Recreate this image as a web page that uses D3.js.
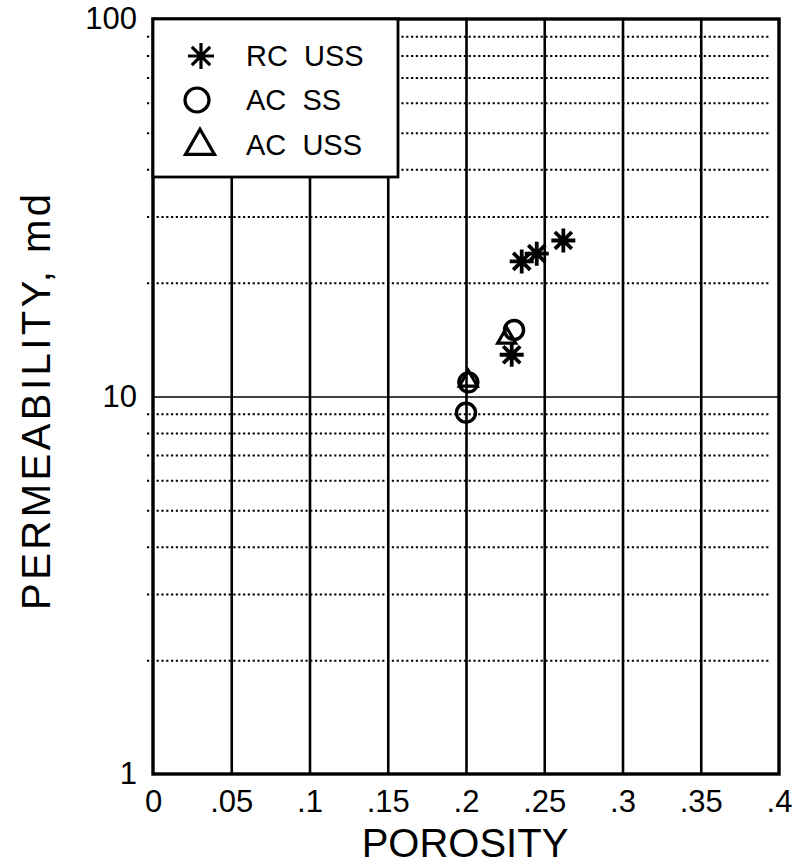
<!DOCTYPE html>
<html>
<head>
<meta charset="utf-8">
<script src="https://cdn.jsdelivr.net/npm/d3@7"></script>
<style>
  html, body { margin: 0; padding: 0; background: #fff; }
  svg { display: block; }
  text { font-family: "Liberation Sans", Arial, sans-serif; fill: #000; }
</style>
</head>
<body>
<svg id="chart" width="797" height="866"></svg>
<script>
// ---- data ----
const xTickValues = [0, 0.05, 0.1, 0.15, 0.2, 0.25, 0.3, 0.35, 0.4];
const xTickLabels = ["0", ".05", ".1", ".15", ".2", ".25", ".3", ".35", ".4"];
const yTickValues = [1, 10, 100];
const yTickLabels = ["1", "10", "100"];
const yMinorValues = [2, 3, 4, 5, 6, 7, 8, 9, 20, 30, 40, 50, 60, 70, 80, 90];

const rcUssPorosity = [0.2356, 0.2452, 0.2622, 0.2292];
const rcUssPerm     = [22.8, 23.9, 25.9, 12.9];

const acSsPorosity = [0.2307, 0.2015, 0.2000];
const acSsPerm     = [15.0, 10.9, 9.06];

const acUssPorosity = [0.2260, 0.2015];
const acUssPerm     = [14.3, 11.0];

const legendLabels = ["RC  USS", "AC  SS", "AC  USS"];
const legendSymbols = ["asterisk", "circle", "triangle"];

// ---- layout ----
const L = 153, R = 779, T = 19, B = 774;
const svg = d3.select("#chart");

const x = d3.scaleLinear().domain([0, 0.4]).range([L, R]);
const y = d3.scaleLog().domain([1, 100]).range([B, T]);

// minor dotted horizontal grid
svg.append("g")
  .attr("transform", `translate(${L},0)`)
  .call(d3.axisLeft(y).tickValues(yMinorValues).tickSize(-(R - L - 8)).tickFormat(""))
  .call(g => g.select(".domain").remove())
  .call(g => g.selectAll(".tick line")
      .attr("x1", -6)
      .attr("stroke", "#000")
      .attr("stroke-width", 2)
      .attr("stroke-dasharray", "2.2,2.6"));

// solid line at 10
svg.append("g")
  .attr("transform", `translate(${L},0)`)
  .call(d3.axisLeft(y).tickValues([10]).tickSize(-(R - L)).tickFormat(""))
  .call(g => g.select(".domain").remove())
  .call(g => g.selectAll(".tick line").attr("stroke", "#000").attr("stroke-width", 1.6));

// vertical solid grid
svg.append("g")
  .attr("transform", `translate(0,${B})`)
  .call(d3.axisBottom(x).tickValues(xTickValues.slice(1, -1)).tickSize(-(B - T)).tickFormat(""))
  .call(g => g.select(".domain").remove())
  .call(g => g.selectAll(".tick line").attr("stroke", "#000").attr("stroke-width", 2.6));

// x tick labels
svg.append("g")
  .attr("transform", `translate(0,${B})`)
  .call(d3.axisBottom(x).tickValues(xTickValues).tickSize(0).tickPadding(16)
        .tickFormat((d, i) => xTickLabels[i]))
  .call(g => g.select(".domain").remove())
  .call(g => g.selectAll("text").attr("font-size", 31).attr("fill", "#000")
        .style("font-family", '"Liberation Sans", Arial, sans-serif'));

// y tick labels
svg.append("g")
  .attr("transform", `translate(${L},0)`)
  .call(d3.axisLeft(y).tickValues(yTickValues).tickSize(0).tickPadding(16)
        .tickFormat((d, i) => yTickLabels[i]))
  .call(g => g.select(".domain").remove())
  .call(g => g.selectAll("text").attr("font-size", 31).attr("fill", "#000")
        .style("font-family", '"Liberation Sans", Arial, sans-serif'));

// frame
svg.append("rect")
  .attr("x", L).attr("y", T).attr("width", R - L).attr("height", B - T)
  .attr("fill", "none").attr("stroke", "#000").attr("stroke-width", 3.4);

// axis titles
svg.append("text")
  .attr("x", (L + R) / 2 - 1).attr("y", 857)
  .attr("text-anchor", "middle").attr("font-size", 40)
  .text("POROSITY");

svg.append("text")
  .attr("transform", "translate(50,402) rotate(-90)")
  .attr("text-anchor", "middle").attr("font-size", 40)
  .attr("textLength", 416).attr("lengthAdjust", "spacing")
  .text("PERMEABILITY, md");

// ---- markers ----
function asterisk(g, cx, cy, r, sw) {
  const p = d3.path();
  for (let k = 0; k < 4; k++) {
    const a = k * Math.PI / 4;
    p.moveTo(cx - r * Math.cos(a), cy - r * Math.sin(a));
    p.lineTo(cx + r * Math.cos(a), cy + r * Math.sin(a));
  }
  g.append("path").attr("d", p.toString()).attr("stroke", "#000")
    .attr("stroke-width", sw).attr("fill", "none");
}
function circle(g, cx, cy, r, sw) {
  g.append("circle").attr("cx", cx).attr("cy", cy).attr("r", r)
    .attr("fill", "none").attr("stroke", "#000").attr("stroke-width", sw);
}
function triangle(g, cx, cy, s, sw) {
  const h = s * Math.sqrt(3) / 2;
  const pts = [[cx, cy - h * 2 / 3], [cx + s / 2, cy + h / 3], [cx - s / 2, cy + h / 3]];
  g.append("path").attr("d", "M" + pts.map(p => p.join(",")).join("L") + "Z")
    .attr("fill", "none").attr("stroke", "#000").attr("stroke-width", sw)
    .attr("stroke-linejoin", "miter");
}

const marks = svg.append("g");
acSsPorosity.forEach((d, i) => circle(marks, x(d), y(acSsPerm[i]), 9.5, 3.4));
acUssPorosity.forEach((d, i) => triangle(marks, x(d), y(acUssPerm[i]), 18, 3.2));
rcUssPorosity.forEach((d, i) => asterisk(marks, x(d), y(rcUssPerm[i]), 12, 3.8));

// ---- legend ----
const lg = svg.append("g");
lg.append("rect").attr("x", L).attr("y", T).attr("width", 245).attr("height", 158)
  .attr("fill", "#fff").attr("stroke", "#000").attr("stroke-width", 2.8);
const rowY = [56, 100, 145];
legendLabels.forEach((lab, i) => {
  const cy = rowY[i];
  if (legendSymbols[i] === "asterisk") asterisk(lg, 201, cy, 13, 3.2);
  if (legendSymbols[i] === "circle") circle(lg, 197, cy, 12, 3.2);
  if (legendSymbols[i] === "triangle") triangle(lg, 200, cy + 1, 29, 3.2);
  lg.append("text").attr("x", 246).attr("y", cy + 10)
    .attr("font-size", 29).style("white-space", "pre").attr("xml:space", "preserve")
    .text(lab);
});
</script>
</body>
</html>
